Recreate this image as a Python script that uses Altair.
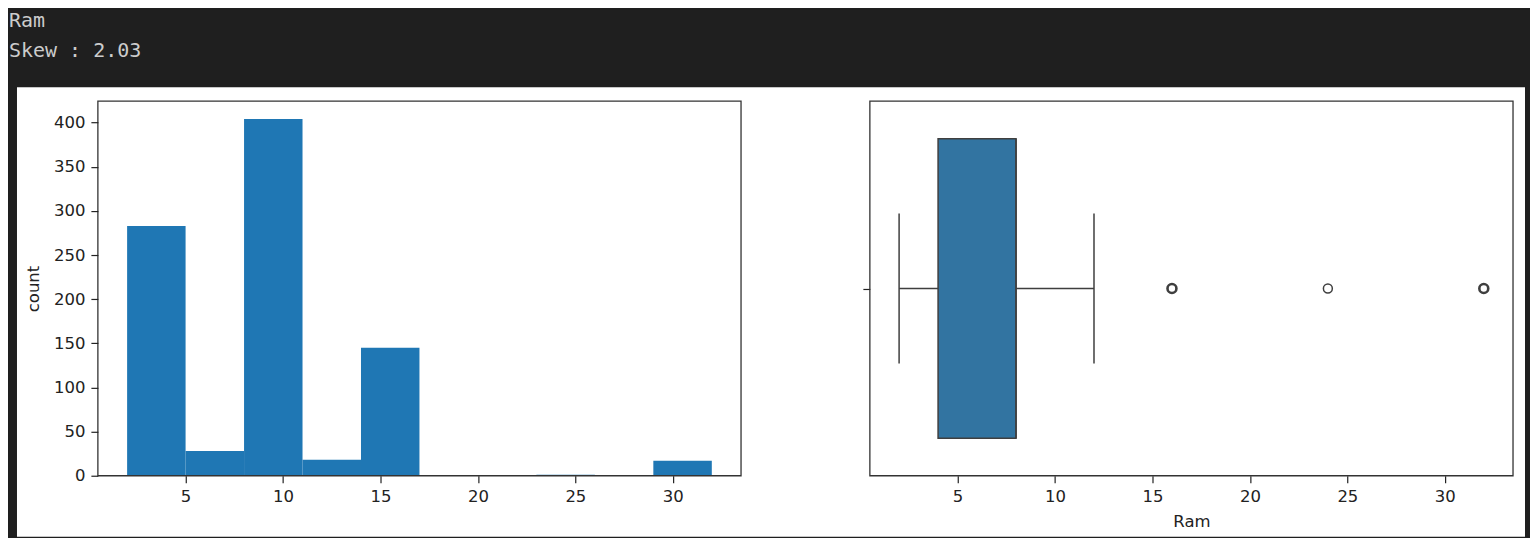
import altair as alt
import pandas as pd

# ---- data ----
title_lines = ["Ram", "Skew : 2.03"]
bin_edges = [2, 5, 8, 11, 14, 17, 20, 23, 26, 29, 32]
counts = [283, 28, 404, 18, 145, 0, 0, 1, 0, 17]
x_ticks = [5, 10, 15, 20, 25, 30]
y_ticks = [0, 50, 100, 150, 200, 250, 300, 350, 400]
whisker_low = [2]
q1 = [4]
median = [8]
q3 = [8]
whisker_high = [12]
outlier_values = [16, 24, 32]
outlier_counts = [145, 1, 17]
x_label = "Ram"
y_label = "count"

# ---- styling ----
W, H = 644, 375
BG = "#1f1f1f"
EDGE = "#3f3f3f"
HIST = "#1f77b4"
BOX = "#3274a1"
FRAME = "#333333"
FS = 16.5

hist_df = pd.DataFrame({"start": bin_edges[:-1], "end": bin_edges[1:], "count": counts})
box_df = pd.DataFrame({"lo": whisker_low, "q1": q1, "med": median, "q3": q3, "hi": whisker_high})
out_df = pd.DataFrame({"v": outlier_values, "n": outlier_counts})
one = pd.DataFrame({"k": [0]})

x_scale = alt.Scale(domain=[0.5, 33.5], nice=False, zero=False)
y_scale = alt.Scale(domain=[0, 424.2], nice=False, zero=False)

# ---- left panel: histogram ----
dark = alt.Chart(one).mark_rect(fill=BG, clip=False).encode(
    x=alt.value(-89), x2=alt.value(1433), y=alt.value(-92), y2=alt.value(436))
white = alt.Chart(one).mark_rect(fill="white", clip=False).encode(
    x=alt.value(-81), x2=alt.value(1429), y=alt.value(-14), y2=alt.value(436))
texts = [
    alt.Chart(one).mark_text(align="left", baseline="alphabetic", font="DejaVu Sans Mono",
                             fontSize=20, color="#cccccc", clip=False).encode(
        x=alt.value(-89), y=alt.value(yy), text=alt.value(t))
    for t, yy in zip(title_lines, [-74, -44])
]
bars = alt.Chart(hist_df).mark_rect(color=HIST).encode(
    x=alt.X("start:Q", scale=x_scale, axis=alt.Axis(values=x_ticks, title="", zindex=2)),
    x2="end:Q",
    y=alt.Y("count:Q", scale=y_scale,
            axis=alt.Axis(values=y_ticks, title=y_label, titlePadding=12, zindex=2)),
    y2=alt.datum(0),
)
frame_l = alt.Chart(one).mark_rect(fill="transparent", stroke=FRAME, strokeWidth=1.3).encode(
    x=alt.value(0), x2=alt.value(W), y=alt.value(0), y2=alt.value(H))
left = alt.layer(dark, white, *texts, bars, frame_l).properties(width=W, height=H)

# ---- right panel: box plot ----
bx = alt.Scale(domain=[0.5, 33.5], nice=False, zero=False)
by = alt.Scale(domain=[-0.5, 0.5], nice=False, zero=False)
xax = alt.Axis(values=x_ticks, title=x_label, titlePadding=8)
yax = alt.Axis(values=[0], labels=False, title="")

whisk_l = alt.Chart(box_df).mark_rule(color=EDGE, strokeWidth=1.5).encode(
    x=alt.X("lo:Q", scale=bx, axis=xax), x2="q1:Q",
    y=alt.YDatum(0, scale=by, axis=yax))
whisk_h = alt.Chart(box_df).mark_rule(color=EDGE, strokeWidth=1.5).encode(
    x=alt.X("q3:Q", scale=bx), x2="hi:Q", y=alt.datum(0))
cap_l = alt.Chart(box_df).mark_rule(color=EDGE, strokeWidth=1.5).encode(
    x=alt.X("lo:Q", scale=bx), y=alt.datum(-0.2), y2=alt.datum(0.2))
cap_h = alt.Chart(box_df).mark_rule(color=EDGE, strokeWidth=1.5).encode(
    x=alt.X("hi:Q", scale=bx), y=alt.datum(-0.2), y2=alt.datum(0.2))
box = alt.Chart(box_df).mark_rect(fill=BOX, stroke=EDGE, strokeWidth=1.5).encode(
    x=alt.X("q1:Q", scale=bx), x2="q3:Q", y=alt.datum(-0.4), y2=alt.datum(0.4))
med = alt.Chart(box_df).mark_rule(color=EDGE, strokeWidth=1.5).encode(
    x=alt.X("med:Q", scale=bx), y=alt.datum(-0.4), y2=alt.datum(0.4))
outl = alt.Chart(out_df).mark_point(shape="circle", filled=False, color=EDGE, size=80, opacity=1).encode(
    x=alt.X("v:Q", scale=bx), y=alt.datum(0),
    strokeWidth=alt.condition("datum.n > 1", alt.value(2.6), alt.value(1.5)))
frame_r = alt.Chart(one).mark_rect(fill="transparent", stroke=FRAME, strokeWidth=1.3).encode(
    x=alt.value(0), x2=alt.value(W), y=alt.value(0), y2=alt.value(H))
right = alt.layer(whisk_l, whisk_h, cap_l, cap_h, box, med, outl, frame_r).properties(width=W, height=H)

chart = alt.hconcat(left, right, spacing=129, bounds="flush").properties(
    padding=0, background=BG
).configure_view(stroke="transparent").configure_axis(
    labelFont="DejaVu Sans", labelFontSize=FS, labelColor="#222222",
    titleFont="DejaVu Sans", titleFontSize=FS, titleFontWeight="normal", titleColor="#222222",
    tickColor="#222222", tickSize=7, tickWidth=1.2, labelPadding=6,
    domain=False, grid=False,
)

chart.save("out.html", embed_options={"renderer": "svg", "actions": False})
